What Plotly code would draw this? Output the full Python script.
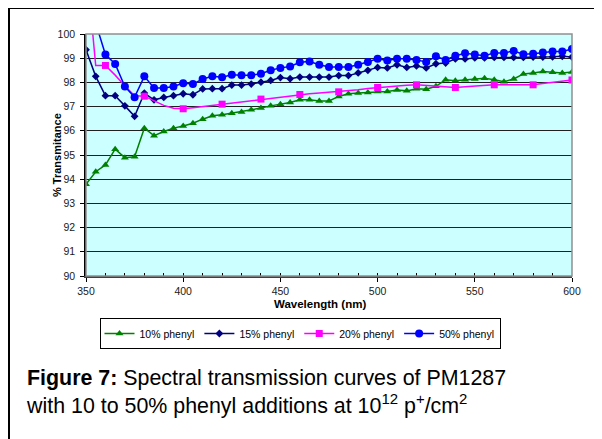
import plotly.graph_objects as go

wavelength = list(range(350, 605, 5))

phenyl_10 = [93.79, 94.31, 94.59, 95.24, 94.89, 94.93, 96.11, 95.80, 95.97, 96.11, 96.20, 96.31,
             96.48, 96.62, 96.66, 96.73, 96.78, 96.87, 96.94, 97.03, 97.10, 97.17, 97.28, 97.28,
             97.23, 97.23, 97.42, 97.53, 97.56, 97.58, 97.62,
             97.62, 97.69, 97.65, 97.74, 97.72, 97.84, 98.11, 98.07, 98.11, 98.14, 98.17, 98.11,
             98.03, 98.14, 98.35, 98.39, 98.45, 98.42, 98.39, 98.43]

phenyl_15 = [99.35, 98.25, 97.45, 97.45, 97.03, 96.60, 97.56, 97.28, 97.38, 97.45, 97.53, 97.49,
             97.73, 97.74, 97.74, 97.89, 97.89, 97.93, 98.01, 98.08, 98.20, 98.15, 98.22, 98.22,
             98.22, 98.22, 98.28, 98.28, 98.39, 98.50, 98.62,
             98.60, 98.73, 98.62, 98.68, 98.60, 98.77, 98.80, 98.97, 98.97, 99.01, 99.01, 99.03,
             99.03, 99.03, 99.03, 99.05, 99.05, 99.06, 99.08, 99.05]

phenyl_20 = [103.0, 98.70, 98.70, 98.30, 97.85, 97.45, 97.43, 97.25, 97.05, 96.93, 96.91, 96.95,
             97.00, 97.05, 97.10, 97.15, 97.20, 97.26, 97.31, 97.36, 97.41, 97.46, 97.50, 97.53,
             97.56, 97.59, 97.61, 97.65, 97.70, 97.75, 97.79,
             97.82, 97.85, 97.88, 97.90, 97.88, 97.85, 97.82, 97.79, 97.82, 97.85, 97.88, 97.90,
             97.90, 97.90, 97.90, 97.90, 97.95, 98.00, 98.05, 98.10]

phenyl_50 = [101.5, 100.45, 99.15, 98.76, 97.83, 97.39, 98.25, 97.77, 97.77, 97.83, 97.97, 97.93,
             98.14, 98.25, 98.21, 98.32, 98.30, 98.30, 98.36, 98.50, 98.60, 98.66, 98.83, 98.86,
             98.73, 98.64, 98.64, 98.64, 98.73, 98.84, 98.98,
             98.91, 98.98, 98.98, 98.93, 98.84, 99.08, 98.93, 99.10, 99.20, 99.15, 99.10, 99.22,
             99.22, 99.30, 99.16, 99.18, 99.24, 99.28, 99.28, 99.38]

series_names = ["10% phenyl", "15% phenyl", "20% phenyl", "50% phenyl"]
x_ticks = [350, 400, 450, 500, 550, 600]
y_ticks = list(range(90, 101))

# pink series shows markers only every 20 nm
pink_marker_x = [w for w in wavelength if w >= 360 and w % 20 == 0]
pink_marker_y = [v for w, v in zip(wavelength, phenyl_20) if w >= 360 and w % 20 == 0]

GREEN = "#008000"
NAVY = "#000080"
PINK = "#FF00FF"
BLUE = "#0000FF"
FONT = "Liberation Sans, Arial, sans-serif"

fig = go.Figure()
fig.add_trace(go.Scatter(x=wavelength, y=phenyl_10, name=series_names[0], mode="lines+markers",
                         line=dict(color=GREEN, width=1.5),
                         marker=dict(symbol="triangle-up", size=7, color=GREEN)))
fig.add_trace(go.Scatter(x=wavelength, y=phenyl_15, name=series_names[1], mode="lines+markers",
                         line=dict(color=NAVY, width=1.5),
                         marker=dict(symbol="diamond", size=6, color=NAVY)))
fig.add_trace(go.Scatter(x=wavelength, y=phenyl_20, name=series_names[2], mode="lines",
                         line=dict(color=PINK, width=1.5), showlegend=False, legendgroup="p20"))
fig.add_trace(go.Scatter(x=pink_marker_x, y=pink_marker_y, name=series_names[2], mode="markers",
                         marker=dict(symbol="square", size=7, color=PINK),
                         showlegend=False, legendgroup="p20"))
fig.add_trace(go.Scatter(x=[None], y=[None], name=series_names[2], mode="lines+markers",
                         line=dict(color=PINK, width=1.5),
                         marker=dict(symbol="square", size=7, color=PINK), legendgroup="p20"))
fig.add_trace(go.Scatter(x=wavelength, y=phenyl_50, name=series_names[3], mode="lines+markers",
                         line=dict(color=BLUE, width=1.5),
                         marker=dict(symbol="circle", size=8, color=BLUE)))

# page is offset by the browser's 8px body margin
OFF = 8
W, H = 602 - OFF, 439 - OFF
L, T = 86 - OFF, 34 - OFF
R = W - (572 - OFF)
B = H - (276 - OFF)
pw = W - L - R
ph = H - T - B


def px(xp):  # page x -> paper
    return (xp - OFF - L) / pw


def py(yp):  # page y -> paper
    return (H - B - (yp - OFF)) / ph


shapes = [
    dict(type="rect", xref="paper", yref="paper", x0=0, x1=1, y0=0, y1=1,
         line=dict(color="#909090", width=1.5), layer="above"),
    dict(type="line", xref="paper", yref="paper", x0=px(9), x1=px(9), y0=py(7), y1=py(445),
         line=dict(color="black", width=2), layer="above"),
    dict(type="line", xref="paper", yref="paper", x0=px(8), x1=px(610), y0=py(8), y1=py(8),
         line=dict(color="black", width=2), layer="above"),
]

annotations = [
    dict(text="<b>% Transmitance</b>", xref="paper", yref="paper", x=px(57), y=0.5,
         xanchor="center", yanchor="middle",
         textangle=-90, showarrow=False, font=dict(family=FONT, size=11, color="black")),
    dict(text="<b>Wavelength (nm)</b>", xref="paper", yref="paper", x=px(320), y=py(304),
         xanchor="center", yanchor="middle",
         showarrow=False, font=dict(family=FONT, size=11.5, color="black")),
    dict(text="<b>Figure 7:</b> Spectral transmission curves of PM1287<br>"
              "with 10 to 50% phenyl additions at 10<sup>12</sup> p<sup>+</sup>/cm<sup>2</sup>",
         xref="paper", yref="paper", x=px(24), y=py(363.5), xanchor="left", yanchor="top",
         align="left", showarrow=False, font=dict(family=FONT, size=21.4, color="black")),
]

fig.update_layout(
    width=W, height=H,
    margin=dict(l=L, r=R, t=T, b=B),
    paper_bgcolor="white",
    plot_bgcolor="#CCFFFF",
    font=dict(family=FONT, size=10.5, color="black"),
    showlegend=True,
    legend=dict(orientation="h", x=px(300), xanchor="center", y=py(333.5), yanchor="middle",
                bordercolor="black", borderwidth=1, bgcolor="white", itemwidth=30,
                font=dict(family=FONT, size=10.5, color="black"), tracegroupgap=0),
    shapes=shapes,
    annotations=annotations,
    xaxis=dict(range=[350, 600], tickvals=x_ticks, ticktext=[str(v) for v in x_ticks],
               showgrid=False, zeroline=False, showline=True, linecolor="#404040", linewidth=2,
               ticks="outside", ticklen=4, tickcolor="black", tickwidth=1,
               minor=dict(tickvals=list(range(360, 600, 10)), ticks="inside", ticklen=3,
                          tickcolor="black", showgrid=False),
               tickfont=dict(family=FONT, size=10.5, color="#202020")),
    yaxis=dict(range=[90, 100], tickvals=y_ticks, ticktext=[str(v) for v in y_ticks],
               showgrid=True, gridcolor="#202020", gridwidth=1, zeroline=False,
               showline=True, linecolor="black", linewidth=1.5,
               ticks="outside", ticklen=4, tickcolor="black", ticklabelstandoff=3,
               tickfont=dict(family=FONT, size=10.5, color="#202020")),
)

fig.write_html("out.html")
